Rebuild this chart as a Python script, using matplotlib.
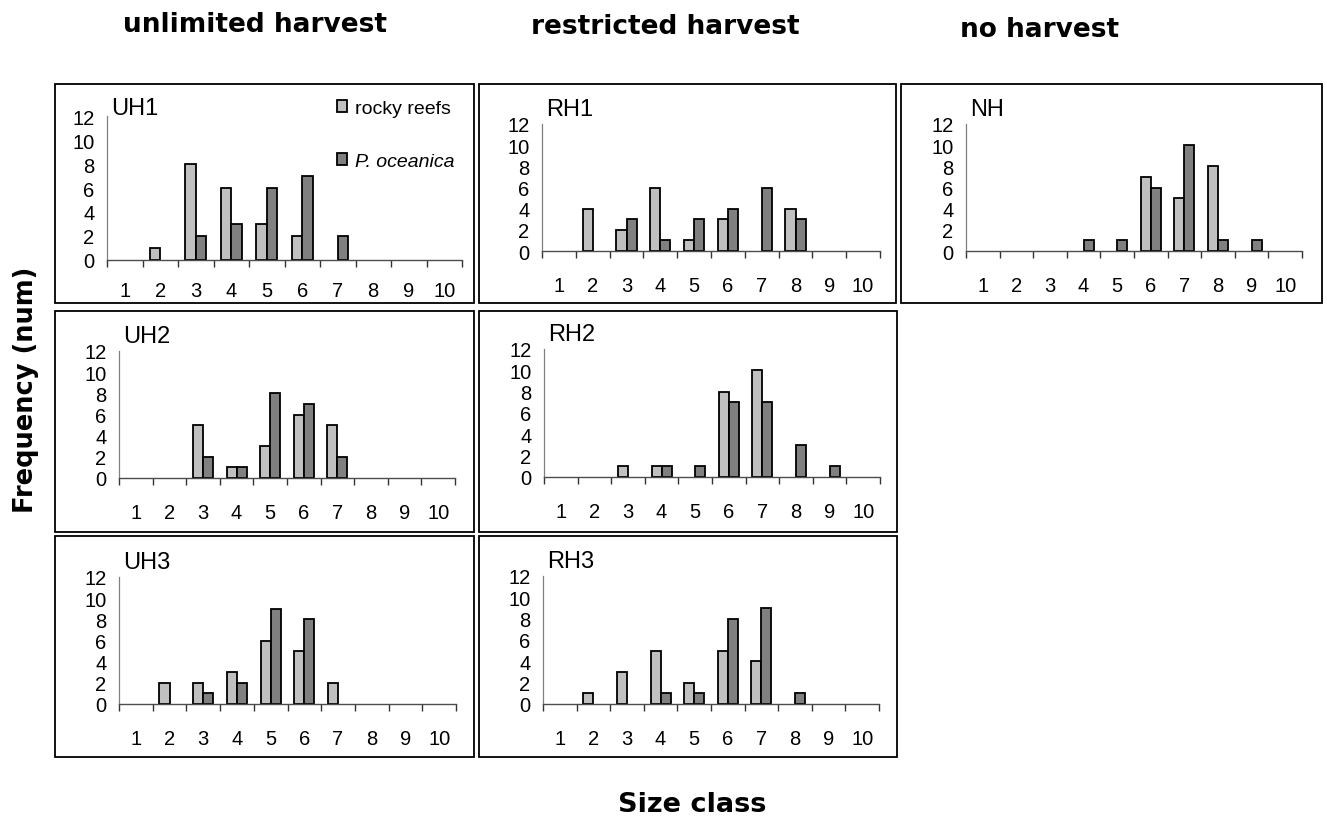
import matplotlib
matplotlib.use("Agg")
import matplotlib.pyplot as plt
from matplotlib.patches import Rectangle
import numpy as np

plt.rcParams['font.family'] = ['Liberation Sans', 'DejaVu Sans']

# size classes 1..10, counts per site for the two habitats
size_class = np.arange(1, 11)

uh1_rocky = [0, 1, 8, 6, 3, 2, 0, 0, 0, 0]
uh1_poc   = [0, 0, 2, 3, 6, 7, 2, 0, 0, 0]
rh1_rocky = [0, 4, 2, 6, 1, 3, 0, 4, 0, 0]
rh1_poc   = [0, 0, 3, 1, 3, 4, 6, 3, 0, 0]
nh_rocky  = [0, 0, 0, 0, 0, 7, 5, 8, 0, 0]
nh_poc    = [0, 0, 0, 1, 1, 6, 10, 1, 1, 0]
uh2_rocky = [0, 0, 5, 1, 3, 6, 5, 0, 0, 0]
uh2_poc   = [0, 0, 2, 1, 8, 7, 2, 0, 0, 0]
rh2_rocky = [0, 0, 1, 1, 0, 8, 10, 0, 0, 0]
rh2_poc   = [0, 0, 0, 1, 1, 7, 7, 3, 1, 0]
uh3_rocky = [0, 2, 2, 3, 6, 5, 2, 0, 0, 0]
uh3_poc   = [0, 0, 1, 2, 9, 8, 0, 0, 0, 0]
rh3_rocky = [0, 1, 3, 5, 2, 5, 4, 0, 0, 0]
rh3_poc   = [0, 0, 0, 1, 1, 8, 9, 1, 0, 0]

col_titles = ['unlimited harvest', 'restricted harvest', 'no harvest']
legend_labels = ['rocky reefs', 'P. oceanica']

W, H = 1327, 820
fig = plt.figure(figsize=(W / 100, H / 100), dpi=100)

def fx(x):
    return x / W

def fy(y):
    return 1 - y / H

# name, rocky, posidonia, axes box (left, top, right, bottom px), frame box, label offset, xtick pad
panels = [
    ('UH1', uh1_rocky, uh1_poc, (107, 117, 462, 261), (55, 85, 474, 304), 6, 15),
    ('RH1', rh1_rocky, rh1_poc, (542, 125, 880, 252), (479, 85, 896, 304), 11, 18),
    ('NH',  nh_rocky,  nh_poc,  (966, 125, 1302, 252), (901, 85, 1322, 304), 11, 18),
    ('UH2', uh2_rocky, uh2_poc, (119, 352, 455, 479), (55, 312, 474, 533), 11, 18),
    ('RH2', rh2_rocky, rh2_poc, (544, 350, 880, 478), (479, 312, 897, 533), 11, 18),
    ('UH3', uh3_rocky, uh3_poc, (119, 578, 456, 705), (55, 537, 474, 758), 11, 18),
    ('RH3', rh3_rocky, rh3_poc, (543, 577, 879, 705), (479, 537, 897, 758), 11, 18),
]

light = '#c0c0c0'
dark = '#808080'
bw = 0.3

for name, rocky, poc, box, frame, loff, xpad in panels:
    l, t, r, b = box
    ax = fig.add_axes([fx(l), fy(b), fx(r - l), (b - t) / H])
    rocky = np.array(rocky)
    poc = np.array(poc)
    m1 = rocky > 0
    m2 = poc > 0
    ax.bar(size_class[m1] - bw / 2, rocky[m1], width=bw, color=light,
           edgecolor='black', linewidth=1.3, label=legend_labels[0])
    ax.bar(size_class[m2] + bw / 2, poc[m2], width=bw, color=dark,
           edgecolor='black', linewidth=1.3, label=legend_labels[1])
    ax.set_xlim(0.5, 10.5)
    ax.set_ylim(0, 12)
    ax.set_yticks(np.arange(0, 13, 2))
    ax.set_xticks(size_class)
    ax.set_xticks(np.arange(0.5, 11, 1), minor=True)
    ax.tick_params(axis='x', which='major', length=0, pad=xpad, labelsize=14.5)
    ax.tick_params(axis='x', which='minor', length=5, width=1.0, color='0.2',
                   direction='out')
    ax.tick_params(axis='y', length=0, pad=9, labelsize=14.5)
    for s in ['top', 'right']:
        ax.spines[s].set_visible(False)
    ax.spines['left'].set_color('0.5')
    ax.spines['left'].set_linewidth(0.9)
    ax.spines['bottom'].set_color('0.3')
    ax.spines['bottom'].set_linewidth(1.0)
    ax.patch.set_alpha(0)
    ax.annotate(name, xy=(0, 1), xycoords='axes fraction', xytext=(3, loff),
                textcoords='offset points', ha='left', va='center', fontsize=17)

    fl, ft, fr, fb = frame
    fig.add_artist(Rectangle((fx(fl), fy(fb)), fx(fr - fl), (fb - ft) / H,
                             transform=fig.transFigure, fill=False,
                             edgecolor='black', linewidth=1.3))

    if name == 'UH1':
        leg = ax.legend(loc='upper left', bbox_to_anchor=(fx(337), fy(101)),
                        bbox_transform=fig.transFigure, frameon=False,
                        fontsize=14, handlelength=0.52, handleheight=0.52,
                        handletextpad=0.4, labelspacing=1.85, borderpad=0,
                        borderaxespad=0)
        leg.get_texts()[1].set_style('italic')

for title, cx, cy in zip(col_titles, [255, 665, 1040], [25, 27, 30]):
    fig.text(fx(cx), fy(cy), title, ha='center', va='center', fontsize=19,
             fontweight='bold', family='DejaVu Sans')

fig.text(fx(26), fy(390), 'Frequency (num)', rotation=90, ha='center',
         va='center', fontsize=18.5, fontweight='bold', family='DejaVu Sans')
fig.text(fx(692), fy(805), 'Size class', ha='center', va='center',
         fontsize=19.5, fontweight='bold', family='DejaVu Sans')

fig.savefig('out.png', dpi=100)
